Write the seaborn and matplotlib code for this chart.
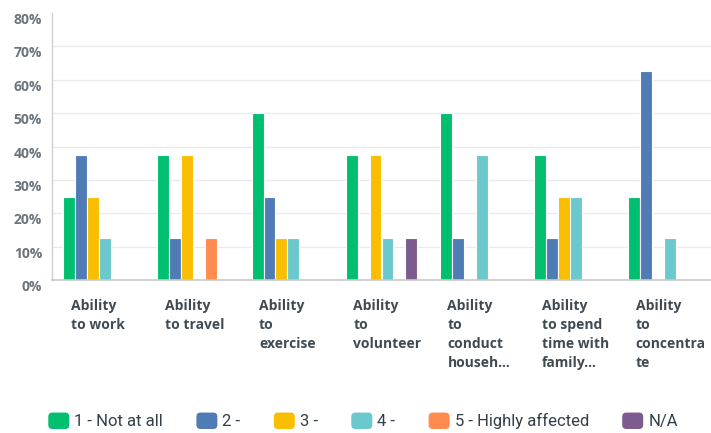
import matplotlib
matplotlib.use("Agg")
import matplotlib.pyplot as plt
import matplotlib.transforms as mtransforms
from matplotlib.patches import Patch, FancyBboxPatch
from matplotlib.legend_handler import HandlerPatch
import seaborn as sns
import pandas as pd

categories = ["Ability\nto work", "Ability\nto travel", "Ability\nto\nexercise",
              "Ability\nto\nvolunteer", "Ability\nto\nconduct\nhouseh...",
              "Ability\nto spend\ntime with\nfamily...", "Ability\nto\nconcentra\nte"]
series = ["1 - Not at all", "2 -", "3 -", "4 -", "5 - Highly affected", "N/A"]
values = {
    "1 - Not at all":      [25, 37.5, 50, 37.5, 50, 37.5, 25],
    "2 -":                 [37.5, 12.5, 25, 0, 12.5, 12.5, 62.5],
    "3 -":                 [25, 37.5, 12.5, 37.5, 0, 25, 0],
    "4 -":                 [12.5, 0, 12.5, 12.5, 37.5, 25, 12.5],
    "5 - Highly affected": [0, 12.5, 0, 0, 0, 0, 0],
    "N/A":                 [0, 0, 0, 12.5, 0, 0, 0],
}
colors = ["#00BF6F", "#507CB6", "#F9BE00", "#6BC8CD", "#FF8B4F", "#7D5B8E"]
yticks = [0, 10, 20, 30, 40, 50, 60, 70, 80]

rows = []
for s in series:
    for c, v in zip(categories, values[s]):
        rows.append({"cat": c, "series": s, "value": v})
df = pd.DataFrame(rows)

sns.set_theme(style="white")
plt.rcParams["font.family"] = ["Open Sans", "DejaVu Sans"]

fig = plt.figure(figsize=(7.11, 4.33), dpi=100)
ax = fig.add_axes([52/711, 1-280/433, 1-52/711, (280-13)/433])

sns.barplot(data=df, x="cat", y="value", hue="series", hue_order=series,
            order=categories, palette=colors, saturation=1, width=0.76,
            edgecolor="white", linewidth=0.8, ax=ax, legend=False)

ax.set_ylim(0, 80)
ax.set_xlim(-0.5, len(categories) - 0.5)
ax.set_yticks([])
ax.set_xticks([])
ax.set_xlabel("")
ax.set_ylabel("")
ytrans = mtransforms.blended_transform_factory(ax.transAxes, ax.transData) + \
    mtransforms.ScaledTranslation(-10/100, -7/100, fig.dpi_scale_trans)
for t in yticks:
    ax.text(0, t, f"{t}%", transform=ytrans, ha="right", va="center",
            fontsize=10, fontweight="bold", color="#6B737B")
for t in yticks[1:-1]:
    ax.axhline(t, color="#EBEBEB", lw=1, zorder=0)
for sp in ["top", "right"]:
    ax.spines[sp].set_visible(False)
ax.spines["left"].set_color("#D0D0D0")
ax.spines["bottom"].set_color("#C8C8C8")
ax.spines["left"].set_linewidth(1)
ax.spines["bottom"].set_linewidth(1.2)

trans = mtransforms.blended_transform_factory(ax.transData, ax.transAxes) + \
    mtransforms.ScaledTranslation(0, -19/100, fig.dpi_scale_trans)
for i, c in enumerate(categories):
    ax.text(i - 0.3, 0, c, transform=trans, ha="left", va="top",
            fontsize=10, fontweight="bold", color="#3F4A52", linespacing=1.45)


class RoundHandler(HandlerPatch):
    def create_artists(self, legend, orig_handle, xdescent, ydescent, width, height, fontsize, trans):
        p = FancyBboxPatch((-xdescent, -ydescent), width, height,
                           boxstyle="round,pad=0,rounding_size=3",
                           facecolor=orig_handle.get_facecolor(), edgecolor="none", transform=trans)
        return [p]


handles = [Patch(facecolor=col, edgecolor="none", label=s) for s, col in zip(series, colors)]
fig.legend(handles=handles, loc="center", bbox_to_anchor=(363/711, 1-421/433),
           ncol=6, frameon=False, handlelength=1.26, handleheight=1.14,
           handletextpad=0.3, columnspacing=2.0, labelcolor="#333E48",
           borderpad=0, borderaxespad=0,
           handler_map={Patch: RoundHandler()},
           prop={"family": ["Roboto", "DejaVu Sans"], "size": 12})

fig.savefig("out.png", dpi=100)
